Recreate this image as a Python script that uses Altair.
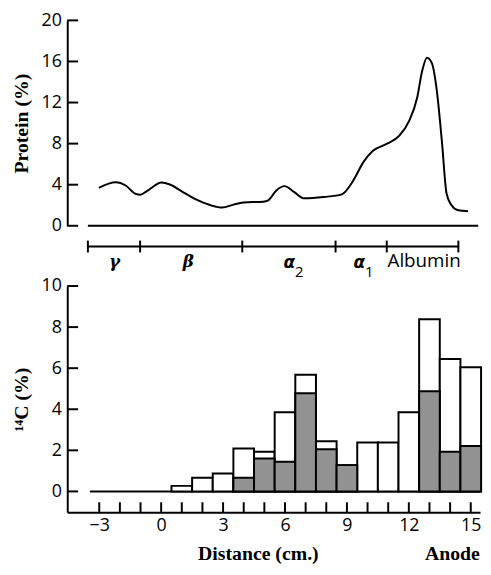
import altair as alt
import pandas as pd

# ---------------- data ----------------
# protein scan (distance cm, protein %)
prot_x = [-3.02, -2.20, -1.72, -1.25, -1.01, -0.69, 0.02, 0.42, 0.98, 1.61, 2.40, 2.96,
          3.51, 3.99, 4.94, 5.19, 5.58, 5.98, 6.45, 6.93, 7.88, 8.75, 9.31, 9.79, 10.26,
          10.90, 11.53, 12.01, 12.40, 12.64, 12.88, 13.12, 13.36, 13.60, 13.83, 14.07,
          14.39, 14.87]
prot_y = [3.70, 4.24, 3.92, 3.12, 3.03, 3.38, 4.21, 4.02, 3.38, 2.64, 2.00, 1.77,
          2.06, 2.26, 2.35, 2.48, 3.44, 3.86, 3.28, 2.67, 2.80, 3.06, 4.41, 6.17, 7.30,
          7.95, 8.75, 10.19, 12.44, 15.02, 16.36, 15.81, 13.09, 8.26, 3.12, 2.00,
          1.51, 1.42]
protein_ticks = [0, 4, 8, 12, 16, 20]
scan_start, scan_end = -3.55, 15.36

# protein fractions
frac_bounds = [-3.55, -1.02, 3.93, 8.45, 10.93, 14.40]
beta_gamma = ["γ", "β"]
beta_gamma_pos = [-2.26, 1.31]
alpha_sym = ["α", "α"]
alpha_sub = ["2", "1"]
alpha_pos = [6.21, 9.60]
albumin_name = ["Albumin"]
albumin_pos = [12.74]

# 14C histogram
dist = list(range(1, 16))
total = [0.27, 0.67, 0.87, 2.09, 1.93, 3.85, 5.68, 2.44, 1.28, 2.38, 2.38, 3.85, 8.38, 6.45, 6.05]
shaded = [0, 0, 0, 0.67, 1.60, 1.44, 4.78, 2.05, 1.28, 0, 0, 0, 4.88, 1.93, 2.21]
c14_ticks = [0, 2, 4, 6, 8, 10]
dist_ticks = list(range(-3, 16))
dist_labels = [-3, 0, 3, 6, 9, 12, 15]
zero_start = -3.45

X_DOMAIN = [-4.55, 15.45]
W = 418
H_TOP = 208
H_BOT = 229
SERIF = "Liberation Serif"
TITLE_DY = 42

# ---------------- top chart ----------------
xs = alt.Scale(domain=X_DOMAIN, nice=False, zero=False)
ys_top = alt.Scale(domain=[0, 20], nice=False)

curve_df = pd.DataFrame({"d": prot_x, "p": prot_y})
line = alt.Chart(curve_df).mark_line(color="black", strokeWidth=2, interpolate="monotone").encode(
    x=alt.X("d:Q", scale=xs, axis=None),
    y=alt.Y("p:Q", scale=ys_top, title="Protein (%)",
            axis=alt.Axis(values=protein_ticks, ticks=False, domain=True, grid=False,
                          labelPadding=6, titleX=-36)),
)
ytick_top = alt.Chart(pd.DataFrame({"p": protein_ticks})).mark_rule(color="black", strokeWidth=2).encode(
    y=alt.Y("p:Q", scale=ys_top, title="Protein (%)"), x=alt.value(0), x2=alt.value(11)
)
base_top = alt.Chart(pd.DataFrame({"a": [scan_start], "b": [scan_end], "p": [0]})).mark_rule(
    color="black", strokeWidth=2).encode(
    x=alt.X("a:Q", scale=xs, axis=None), x2="b:Q", y=alt.Y("p:Q", scale=ys_top, title="Protein (%)")
)
bracket = alt.Chart(pd.DataFrame({"a": [min(frac_bounds)], "b": [max(frac_bounds)]})).mark_rule(
    color="black", strokeWidth=2).encode(
    x=alt.X("a:Q", scale=xs, axis=None), x2="b:Q", y=alt.value(229)
)
bracket_ticks = alt.Chart(pd.DataFrame({"b": frac_bounds})).mark_rule(color="black", strokeWidth=2).encode(
    x=alt.X("b:Q", scale=xs, axis=None), y=alt.value(223), y2=alt.value(235)
)
greek = alt.Chart(pd.DataFrame({"n": beta_gamma, "x": beta_gamma_pos})).mark_text(
    font="DejaVu Serif", fontStyle="italic", fontWeight="bold", fontSize=17, color="black",
    baseline="middle").encode(
    x=alt.X("x:Q", scale=xs, axis=None), y=alt.value(245), text="n:N"
)
alpha = alt.Chart(pd.DataFrame({"n": alpha_sym, "x": alpha_pos})).mark_text(
    font="DejaVu Sans", fontStyle="italic", fontWeight="bold", fontSize=17, color="black",
    baseline="middle").encode(
    x=alt.X("x:Q", scale=xs, axis=None), y=alt.value(246), text="n:N"
)
alpha_subs = alt.Chart(pd.DataFrame({"n": alpha_sub, "x": alpha_pos})).mark_text(
    font="Open Sans", fontSize=15, color="black", baseline="middle", dx=10).encode(
    x=alt.X("x:Q", scale=xs, axis=None), y=alt.value(255), text="n:N"
)
alb = alt.Chart(pd.DataFrame({"n": albumin_name, "x": albumin_pos})).mark_text(
    font="Open Sans", fontSize=19, color="black", baseline="middle").encode(
    x=alt.X("x:Q", scale=xs, axis=None), y=alt.value(244), text="n:N"
)
top = alt.layer(line, ytick_top, base_top, bracket, bracket_ticks, greek, alpha, alpha_subs, alb).properties(
    width=W, height=H_TOP)

# ---------------- bottom chart ----------------
ys_bot = alt.Scale(domain=[-1.01, 10], nice=False, zero=False)
bars_df = pd.DataFrame({"d": dist, "total": total, "shaded": shaded})
ytitle = "¹⁴C (%)"

white = alt.Chart(bars_df).transform_calculate(
    lo="datum.d - 0.5", hi="datum.d + 0.5"
).mark_rect(fill="white", stroke="black", strokeWidth=2).encode(
    x=alt.X("lo:Q", scale=xs, title="Distance (cm.)",
            axis=alt.Axis(values=dist_labels, ticks=False, domain=True, grid=False,
                          labelPadding=5, titleX=193, titleY=TITLE_DY, titleBaseline="middle")),
    x2="hi:Q",
    y=alt.Y("total:Q", scale=ys_bot, title=ytitle,
            axis=alt.Axis(values=c14_ticks, ticks=False, domain=True, grid=False,
                          labelPadding=6, titleX=-36)),
    y2=alt.datum(0),
)
grey = alt.Chart(bars_df).transform_filter("datum.shaded > 0").transform_calculate(
    lo="datum.d - 0.5", hi="datum.d + 0.5"
).mark_rect(fill="#929292", stroke="black", strokeWidth=2).encode(
    x=alt.X("lo:Q", scale=xs, title="Distance (cm.)"), x2="hi:Q",
    y=alt.Y("shaded:Q", scale=ys_bot, title=ytitle), y2=alt.datum(0),
)
zero_line = alt.Chart(pd.DataFrame({"a": [zero_start], "b": [X_DOMAIN[1]], "v": [0]})).mark_rule(
    color="black", strokeWidth=2).encode(
    x=alt.X("a:Q", scale=xs, title="Distance (cm.)"), x2="b:Q",
    y=alt.Y("v:Q", scale=ys_bot, title=ytitle)
)
ytick_bot = alt.Chart(pd.DataFrame({"v": c14_ticks})).mark_rule(color="black", strokeWidth=2).encode(
    y=alt.Y("v:Q", scale=ys_bot, title=ytitle), x=alt.value(0), x2=alt.value(11)
)
xtick_bot = alt.Chart(pd.DataFrame({"t": dist_ticks})).mark_rule(color="black", strokeWidth=2).encode(
    x=alt.X("t:Q", scale=xs, title="Distance (cm.)"), y=alt.value(H_BOT), y2=alt.value(H_BOT - 10)
)
anode = alt.Chart(pd.DataFrame({"n": ["Anode"]})).mark_text(
    font=SERIF, fontWeight="bold", fontSize=20, color="black", baseline="middle").encode(
    x=alt.value(390), y=alt.value(H_BOT + TITLE_DY), text="n:N"
)
bottom = alt.layer(zero_line, white, grey, ytick_bot, xtick_bot, anode).properties(
    width=W, height=H_BOT)

chart = alt.vconcat(top, bottom, spacing=61, bounds="flush").properties(
    padding={"left": 4, "top": 0, "right": 0, "bottom": 0}
).configure_view(stroke=None).configure_axis(
    labelFont="Open Sans", labelFontSize=18, labelColor="black",
    titleFont=SERIF, titleFontWeight="bold", titleFontSize=20, titleColor="black",
    domainColor="black", domainWidth=2, grid=False,
)

chart.save("out.html", embed_options={"renderer": "svg", "actions": False})
